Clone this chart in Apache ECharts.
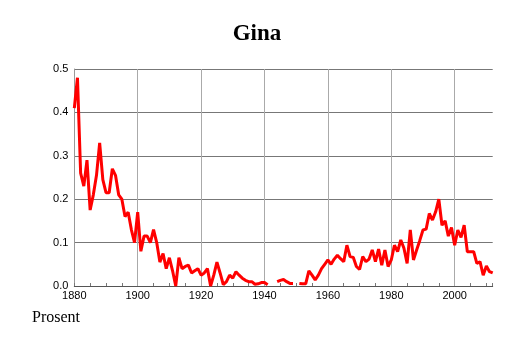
<!DOCTYPE html>
<html>
<head>
<meta charset="utf-8">
<script src="https://cdn.jsdelivr.net/npm/echarts@6/dist/echarts.min.js"></script>
<style>
html,body{margin:0;padding:0;background:#fff;}
#c{width:514px;height:343px;}
</style>
</head>
<body>
<div id="c"></div>
<script>
const titleText = 'Gina';
const yAxisTitle = 'Prosent';
const startYear = 1880;
const values = [
  0.41, 0.48, 0.26, 0.23, 0.29, 0.175, 0.21, 0.255, 0.33, 0.245,
  0.215, 0.215, 0.27, 0.255, 0.21, 0.2, 0.16, 0.17, 0.13, 0.1,
  0.17, 0.08, 0.115, 0.115, 0.1, 0.13, 0.1, 0.055, 0.075, 0.04,
  0.065, 0.035, 0.0, 0.065, 0.04, 0.045, 0.048, 0.03, 0.035, 0.04,
  0.025, 0.03, 0.04, 0.0, 0.025, 0.055, 0.03, 0.003, 0.01, 0.025,
  0.018, 0.033, 0.025, 0.018, 0.013, 0.01, 0.01, 0.004, 0.005, 0.008,
  0.008, 0.003, null, null, 0.01, 0.013, 0.015, 0.01, 0.006, 0.006,
  null, 0.006, 0.005, 0.005, 0.035, 0.025, 0.014, 0.025, 0.04, 0.05,
  0.06, 0.05, 0.062, 0.071, 0.063, 0.056, 0.094, 0.068, 0.066, 0.045,
  0.038, 0.068, 0.056, 0.062, 0.083, 0.056, 0.085, 0.048, 0.083, 0.045,
  0.06, 0.094, 0.079, 0.106, 0.087, 0.052, 0.129, 0.06, 0.083, 0.105,
  0.129, 0.131, 0.167, 0.152, 0.171, 0.2, 0.14, 0.15, 0.115, 0.135,
  0.094, 0.129, 0.112, 0.14, 0.079, 0.079, 0.079, 0.052, 0.056, 0.025,
  0.046, 0.033, 0.03
];
const years = values.map((v, i) => startYear + i);
const xTicks = [1880, 1900, 1920, 1940, 1960, 1980, 2000];
const yTicks = [0.0, 0.1, 0.2, 0.3, 0.4, 0.5];

const chart = echarts.init(document.getElementById('c'), null, {renderer: 'canvas'});
chart.setOption({
  animation: false,
  backgroundColor: '#ffffff',
  title: {
    text: titleText,
    left: 'center',
    top: 18,
    textStyle: {fontFamily: 'Liberation Serif', fontWeight: 'bold', fontSize: 23, color: '#000'}
  },
  graphic: [{
    type: 'text',
    left: 32,
    top: 310,
    style: {text: yAxisTitle, font: '16px "Liberation Serif"', fill: '#000'}
  }],
  grid: {left: 74.3, right: 21.3, top: 69, bottom: 57, containLabel: false},
  xAxis: {
    type: 'value',
    min: 1880,
    max: 2012,
    interval: 20,
    axisLine: {show: true, lineStyle: {color: '#555', width: 1}},
    axisTick: {show: true, inside: true, length: 3, lineStyle: {color: '#777'}},
    minorTick: {show: true, splitNumber: 4, length: 3, lineStyle: {color: '#777'}},
    splitLine: {show: false},
    axisLabel: {
      fontFamily: 'Liberation Sans', fontSize: 11, color: '#000', margin: 4,
      formatter: v => xTicks.includes(v) ? String(v) : ''
    }
  },
  yAxis: {
    type: 'value',
    min: 0,
    max: 0.5,
    interval: 0.1,
    axisLine: {show: true, lineStyle: {color: '#999', width: 1}},
    axisTick: {show: false},
    splitLine: {show: true, lineStyle: {color: '#777777', width: 1}},
    axisLabel: {
      fontFamily: 'Liberation Sans', fontSize: 11, color: '#000', margin: 6,
      formatter: v => v.toFixed(1)
    }
  },
  series: [{
    type: 'line',
    data: years.map((y, i) => [y, values[i]]),
    showSymbol: false,
    connectNulls: false,
    lineStyle: {color: '#ff0000', width: 3},
    itemStyle: {color: '#ff0000'},
    z: 3,
    markLine: {
      silent: true,
      symbol: 'none',
      label: {show: false},
      lineStyle: {color: '#aaaaaa', width: 1, type: 'solid'},
      z: 1,
      data: xTicks.slice(1).map(t => ({xAxis: t}))
    }
  }]
});
</script>
</body>
</html>
